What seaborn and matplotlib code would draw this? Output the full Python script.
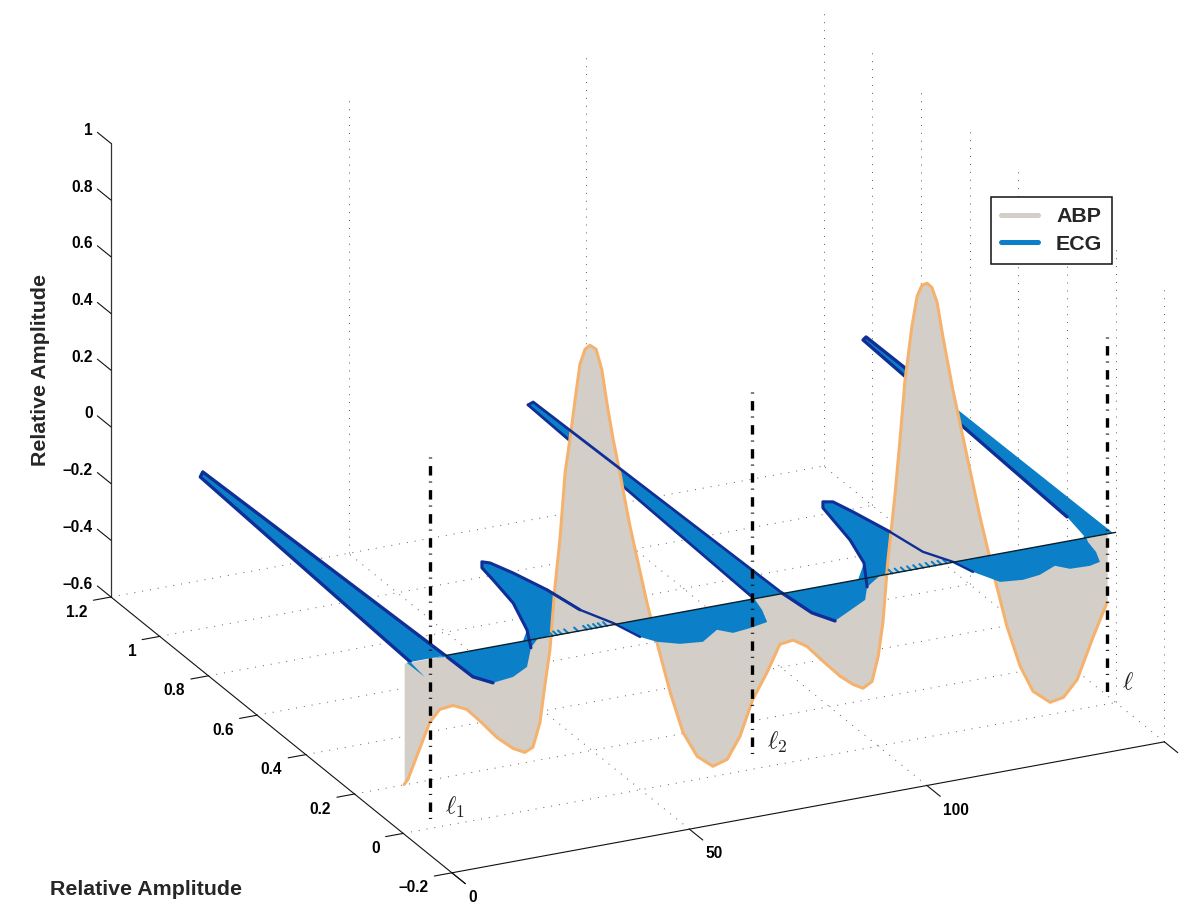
import numpy as np
import matplotlib
matplotlib.use('Agg')
import matplotlib.pyplot as plt
from matplotlib.lines import Line2D
import seaborn as sns

# ABP trace, sits in the plane y = 0 (time, amplitude)
abp_t = [0.2, 1.0, 5.6, 7.7, 10.5, 13.4, 16.2, 19.7, 23.1, 25.6, 27.3, 28.8, 29.8, 30.9, 31.9, 33.0, 34.1, 35.1,
         36.2, 37.2, 38.3, 39.3, 40.6, 41.8, 43.1, 44.2, 45.6, 47.7, 51.3, 53.4, 56.2, 58.9, 61.9, 65.2, 68.2,
         70.9, 73.6, 76.6, 79.3, 82.1, 85.0, 88.4, 92.0, 94.7, 96.8, 98.7, 100.0, 101.0, 102.0, 103.5, 104.6,
         105.6, 107.1, 108.2, 109.2, 110.3, 111.3, 112.4, 113.6, 115.7, 118.7, 121.4, 124.2, 127.1, 129.9,
         132.6, 136.2, 139.0, 141.9, 145.3, 148.2]
abp_z = [-0.428, -0.412, -0.225, -0.186, -0.181, -0.204, -0.254, -0.322, -0.371, -0.393, -0.380, -0.297, -0.173,
         -0.046, 0.163, 0.336, 0.569, 0.682, 0.820, 0.940, 0.990, 1.001, 0.983, 0.908, 0.763, 0.654, 0.533, 0.340,
         0.057, -0.090, -0.275, -0.425, -0.519, -0.564, -0.549, -0.476, -0.354, -0.268, -0.177, -0.171, -0.202,
         -0.265, -0.329, -0.366, -0.386, -0.368, -0.283, -0.166, 0.042, 0.270, 0.468, 0.666, 0.859, 0.962, 0.997,
         1.001, 0.983, 0.927, 0.804, 0.610, 0.365, 0.145, -0.061, -0.261, -0.411, -0.507, -0.557, -0.548, -0.494,
         -0.352, -0.241]

# ECG trace, sits in the plane z = 0 (time, amplitude)
ecg_t = [0.7, 0.8, 1.5, 4.7, 6.2, 8.9, 9.1, 11.26, 15.96, 20.48, 25.2, 28.32, 31.65, 33.1, 33.75, 35.02, 36.18,
         38.01, 40.24, 41.66, 44.56, 46.23, 48.08, 51.61, 55.97, 60.92, 63.03, 67.0, 71.19, 72.89, 73.92, 76.21,
         77.7, 79.9, 80.82, 83.07, 86.83, 92.68, 95.77, 100.34, 102.82, 104.15, 104.97, 106.25, 107.97, 109.28,
         111.38, 112.8, 115.82, 117.14, 119.65, 124.02, 128.0, 132.48, 134.42, 138.49, 141.04, 142.48, 143.2,
         143.82, 144.93, 147.46, 148.61, 148.83, 149.4]
ecg_y = [0.0, -0.073, 0.0, 0.925, 0.944, -0.007, -0.109, -0.149, -0.14, -0.109, -0.033, 0.044, 0.166, 0.277, 0.335,
         0.36, 0.349, 0.29, 0.195, 0.087, 0.007, -0.071, -0.104, -0.13, -0.139, -0.10, -0.125, -0.118, -0.106,
         -0.052, 0.01, 0.974, 0.982, 0.002, -0.102, -0.153, -0.128, -0.089, -0.037, 0.065, 0.171, 0.266, 0.324,
         0.349, 0.341, 0.284, 0.174, 0.066, 0.002, -0.055, -0.117, -0.126, -0.118, -0.092, -0.116, -0.119, -0.11,
         -0.066, -0.019, 0.01, 0.101, 0.988, 0.998, 0.72, 0.0]

# little comb of ECG samples showing on the baseline
teeth_t = [31.5, 32.4, 33.4, 34.7, 36.8, 38.7, 39.7, 40.8, 41.8, 42.9,
           103.0, 104.3, 105.6, 106.9, 108.2, 109.5, 110.8, 112.1, 113.3, 114.5]

# vertical markers: time, top, bottom, name
mark_t = [5.6, 73.4, 148.2]
mark_top = [0.71, 0.73, 0.693]
mark_bot = [-0.567, -0.547, -0.566]
mark_names = [r'$\ell_1$', r'$\ell_2$', r'$\ell$']

x_ticks = [0, 50, 100, 150]
x_labels = ['0', '50', '100', '']
y_ticks = [-0.2, 0, 0.2, 0.4, 0.6, 0.8, 1, 1.2]
y_labels = ['\u20130.2', '0', '0.2', '0.4', '0.6', '0.8', '1', '1.2']
z_ticks = [-0.6, -0.4, -0.2, 0, 0.2, 0.4, 0.6, 0.8, 1]
z_labels = ['\u20130.6', '\u20130.4', '\u20130.2', '0', '0.2', '0.4', '0.6', '0.8', '1']

GREY = '#D3CFC8'
ORANGE = '#F5B26E'
BLUE = '#0B80C8'
NAVY = '#0F2F96'

sns.set_theme(style='white')
plt.rcParams['font.family'] = ['Liberation Sans', 'DejaVu Sans']
plt.rcParams['mathtext.fontset'] = 'cm'
plt.rcParams['lines.scale_dashes'] = False


# same view as the old matlab plot3: orthographic, so a plain linear map to the page
def proj(x, y, z):
    x, y, z = np.asarray(x, float), np.asarray(y, float), np.asarray(z, float)
    px = 111 + 4.75 * x + 243.5 * (1.2 - y)
    py = 597 - 0.873 * x + 197 * (1.2 - y) - 283.5 * (z + 0.6)
    return px, py


def line3(x, y, z, **kw):
    x, y, z = np.broadcast_arrays(x, y, z)
    px, py = proj(x, y, z)
    ax.plot(px, py, **kw)


fig = plt.figure(figsize=(12, 9.05), dpi=100)
ax = fig.add_axes([0, 0, 1, 1])
ax.axis('off')

# dotted box grid
dots = dict(color='#5a5a5a', lw=0.7, ls=(0, (0.7, 5.0)), zorder=1)
for y in y_ticks[1:]:
    line3([0, 150], y, -0.6, **dots)
for x in x_ticks[1:]:
    line3(x, [-0.2, 1.2], -0.6, **dots)
    line3(x, 1.2, [-0.6, 1], **dots)
for y in y_ticks[:-1]:
    line3(150, y, [-0.6, 1], **dots)

# solid axes
line3(0, 1.2, [-0.6, 1], color='#333333', lw=0.9, zorder=2)
line3(0, [-0.255, 1.2], -0.6, color='#111111', lw=0.8, zorder=2)
line3([0, 150], -0.2, -0.6, color='#111111', lw=0.8, zorder=2)

tick_font = dict(fontsize=11.2, fontweight='bold', color='black')
for z, lab in zip(z_ticks, z_labels):
    line3(0, [1.2, 1.256], z, color='#111111', lw=0.8, zorder=2)
    px, py = proj(0, 1.2, z)
    ax.text(px - 18, py - 13, lab, ha='right', va='center', **tick_font)
for y, lab in zip(y_ticks, y_labels):
    line3([0, -3.7], y, -0.6, color='#111111', lw=0.8, zorder=2)
    px, py = proj(0, y, -0.6)
    ax.text(px - 23.5, py + 15, lab, ha='right', va='center', **tick_font)
for x, lab in zip(x_ticks, x_labels):
    line3(x, [-0.2, -0.255], -0.6, color='#111111', lw=0.8, zorder=2)
    px, py = proj(x, -0.2, -0.6)
    ax.text(px + 16, py + 24.6, lab, ha='left', va='center', **tick_font)

ax.text(41, 370, 'Relative Amplitude', rotation=90, ha='center', va='center', fontsize=15.4, fontweight='bold')
ax.text(146, 889, 'Relative Amplitude', ha='center', va='center', fontsize=15.4, fontweight='bold')

# ECG above the baseline is behind the ABP sheet, below it is in front
ecg_t_a = np.array(ecg_t)
ecg_y_a = np.array(ecg_y)
px, py = proj(ecg_t_a, np.maximum(ecg_y_a, 0), 0)
ax.fill(px, py, color=BLUE, lw=0, zorder=3)

abp_px, abp_py = proj(abp_t, 0, abp_z)
_, base_py = proj(abp_t, 0, 0)
ax.fill_between(abp_px, base_py, abp_py, color=GREY, lw=0, zorder=4)
sns.lineplot(x=abp_px, y=abp_py, sort=False, estimator=None, color=ORANGE, linewidth=2.2, ax=ax, zorder=5)

px, py = proj(ecg_t_a, np.minimum(ecg_y_a, 0), 0)
ax.fill(px, py, color=BLUE, lw=0, zorder=6)

for t in teeth_t:
    line3([t, t + 0.1], [0, 0.018], 0, color=BLUE, lw=1.5, zorder=6)

# darker outline, only on the stretches where it shows
ecg_px, ecg_py = proj(ecg_t_a, ecg_y_a, 0)
outline = [(2, 5, 3, 2.4), (5, 7, 7, 2.4), (10, 19, 7, 2.2), (18, 21, 7, 1.7), (30, 31, 3.5, 2.0), (31, 33, 7, 2.0),
           (33, 35, 7, 2.4), (38, 46, 7, 2.2), (46, 49, 7, 1.7), (60, 63, 3.5, 2.4)]
for i0, i1, zo, lw in outline:
    sns.lineplot(x=ecg_px[i0:i1 + 1], y=ecg_py[i0:i1 + 1], sort=False, estimator=None, color=NAVY, linewidth=lw,
                 ax=ax, zorder=zo)

# baseline
line3([8.9, 150], 0, 0, color='#06202c', lw=1.0, zorder=8)

# markers
for t, top, bot, name in zip(mark_t, mark_top, mark_bot, mark_names):
    line3(t, 0, [top, bot], color='black', lw=2.4, ls=(0, (0.7, 5.5, 6.8, 4.3)), dash_capstyle='butt', zorder=9)
    px, py = proj(t, 0, bot)
    ax.text(px + 15, py - 12, name, fontsize=18, ha='left', va='center', color='#222222')

handles = [Line2D([], [], color=GREY, lw=3.6, solid_capstyle='round'),
           Line2D([], [], color=BLUE, lw=3.6, solid_capstyle='round')]
leg = ax.legend(handles, ['ABP', 'ECG'], loc='upper left', bbox_to_anchor=(991, 197), bbox_transform=ax.transData,
                borderaxespad=0, frameon=True, fancybox=False, framealpha=1, edgecolor='#111111',
                prop=dict(size=15.4, weight='bold'), handlelength=1.73, handletextpad=0.84, borderpad=0.47,
                labelspacing=0.4)
leg.get_frame().set_linewidth(1.1)
leg.set_zorder(20)

ax.set_xlim(0, 1200)
ax.set_ylim(905, 0)
fig.savefig('out.png', dpi=100)
